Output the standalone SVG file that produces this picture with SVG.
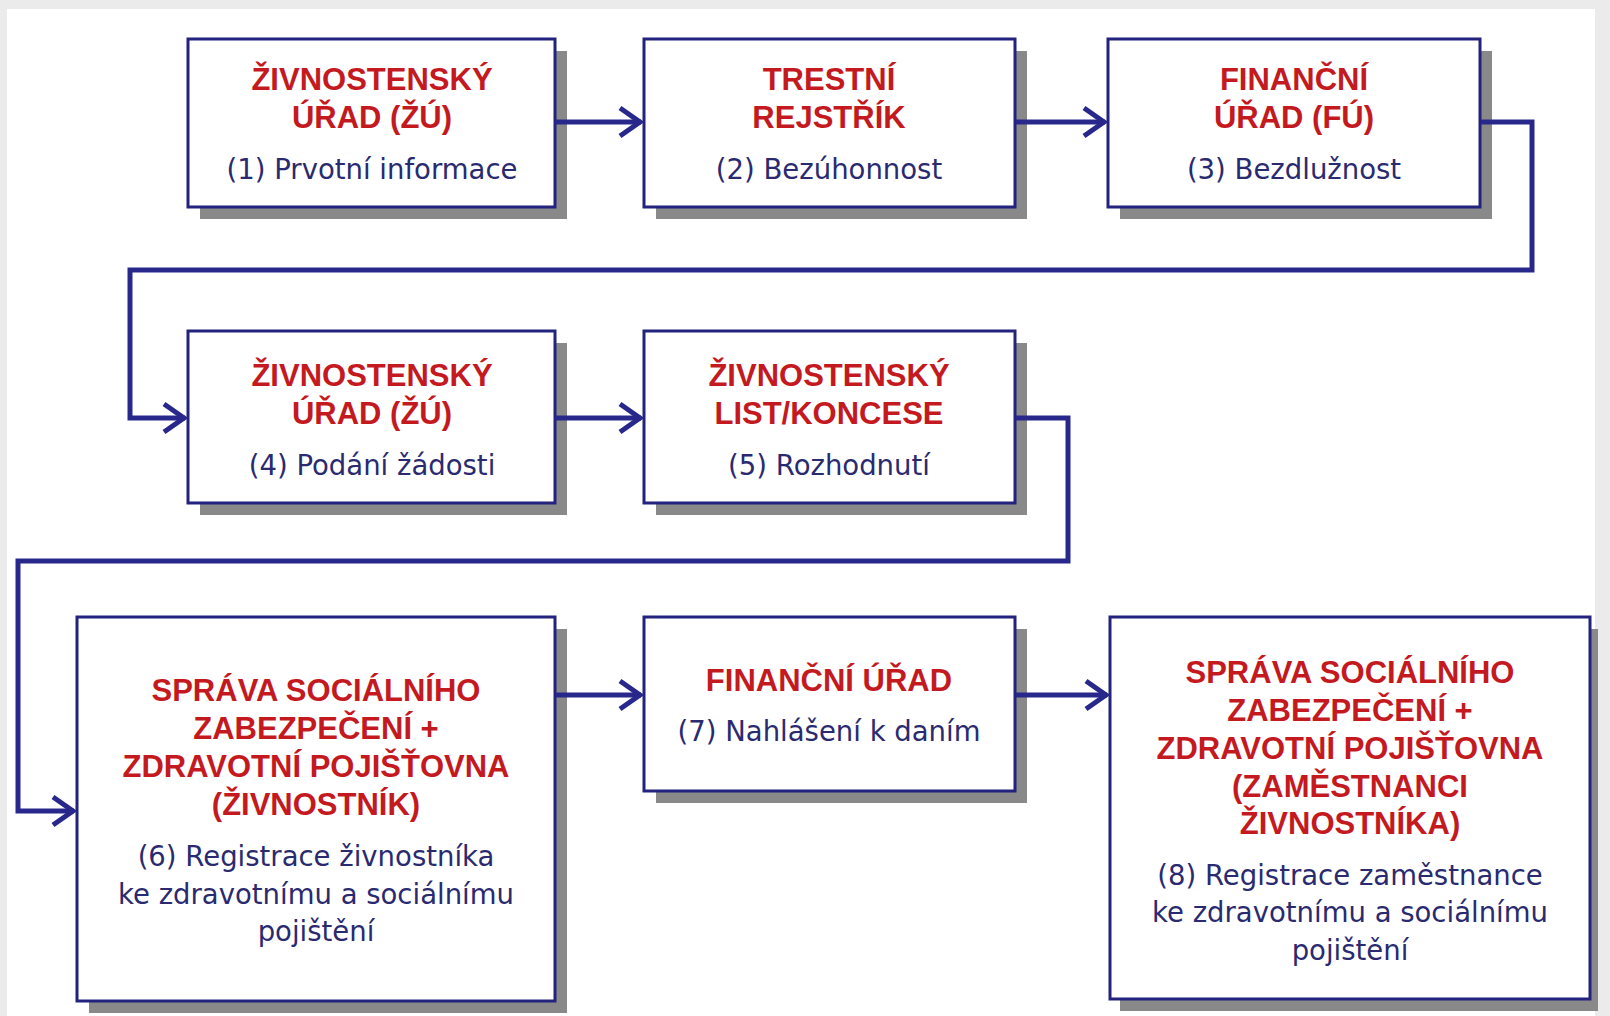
<svg xmlns="http://www.w3.org/2000/svg" width="1610" height="1016" viewBox="0 0 1610 1016">
<style>
.bg{fill:#ebebeb}
.area{fill:#ffffff}
.shadow{fill:#898989}
.box{fill:#ffffff;stroke:#23237e;stroke-width:3}
.t{font-family:"Liberation Sans",Arial,sans-serif;font-weight:bold;font-size:31px;fill:#c41a1f;text-anchor:middle}
.s{font-family:"DejaVu Sans",Verdana,sans-serif;font-size:27.5px;fill:#2a2a70;text-anchor:middle}
.c{fill:none;stroke:#28288c;stroke-width:5;stroke-linejoin:miter}
</style>
<defs>
<marker id="arr" viewBox="-26 -18 30 36" refX="0" refY="0" markerWidth="30" markerHeight="36" orient="auto" markerUnits="userSpaceOnUse">
<path d="M-21,-14 L-1,0 L-21,14" fill="none" stroke="#28288c" stroke-width="5"/>
</marker>
</defs>
<rect class="bg" x="0" y="0" width="1610" height="1016"/>
<rect class="area" x="7" y="9" width="1588" height="1007"/>

<g id="n1">
<rect class="shadow" x="200" y="51" width="367" height="168"/>
<rect class="box" x="188" y="39" width="367" height="168"/>
<text class="t" x="372" y="90">ŽIVNOSTENSKÝ</text>
<text class="t" x="372" y="128">ÚŘAD (ŽÚ)</text>
<text class="s" x="372" y="179">(1) Prvotní informace</text>
</g>

<g id="n2">
<rect class="shadow" x="656" y="51" width="371" height="168"/>
<rect class="box" x="644" y="39" width="371" height="168"/>
<text class="t" x="829" y="90">TRESTNÍ</text>
<text class="t" x="829" y="128">REJSTŘÍK</text>
<text class="s" x="829" y="179">(2) Bezúhonnost</text>
</g>

<g id="n3">
<rect class="shadow" x="1120" y="51" width="372" height="168"/>
<rect class="box" x="1108" y="39" width="372" height="168"/>
<text class="t" x="1294" y="90">FINANČNÍ</text>
<text class="t" x="1294" y="128">ÚŘAD (FÚ)</text>
<text class="s" x="1294" y="179">(3) Bezdlužnost</text>
</g>

<g id="n4">
<rect class="shadow" x="200" y="343" width="367" height="172"/>
<rect class="box" x="188" y="331" width="367" height="172"/>
<text class="t" x="372" y="386">ŽIVNOSTENSKÝ</text>
<text class="t" x="372" y="424">ÚŘAD (ŽÚ)</text>
<text class="s" x="372" y="475">(4) Podání žádosti</text>
</g>

<g id="n5">
<rect class="shadow" x="656" y="343" width="371" height="172"/>
<rect class="box" x="644" y="331" width="371" height="172"/>
<text class="t" x="829" y="386">ŽIVNOSTENSKÝ</text>
<text class="t" x="829" y="424">LIST/KONCESE</text>
<text class="s" x="829" y="475">(5) Rozhodnutí</text>
</g>

<g id="n6">
<rect class="shadow" x="89" y="629" width="478" height="384"/>
<rect class="box" x="77" y="617" width="478" height="384"/>
<text class="t" x="316" y="701">SPRÁVA SOCIÁLNÍHO</text>
<text class="t" x="316" y="739">ZABEZPEČENÍ +</text>
<text class="t" x="316" y="777">ZDRAVOTNÍ POJIŠŤOVNA</text>
<text class="t" x="316" y="815">(ŽIVNOSTNÍK)</text>
<text class="s" x="316" y="866">(6) Registrace živnostníka</text>
<text class="s" x="316" y="904">ke zdravotnímu a sociálnímu</text>
<text class="s" x="316" y="941">pojištění</text>
</g>

<g id="n7">
<rect class="shadow" x="656" y="629" width="371" height="174"/>
<rect class="box" x="644" y="617" width="371" height="174"/>
<text class="t" x="829" y="691">FINANČNÍ ÚŘAD</text>
<text class="s" x="829" y="741">(7) Nahlášení k daním</text>
</g>

<g id="n8">
<rect class="shadow" x="1120" y="629" width="478" height="382"/>
<rect class="box" x="1110" y="617" width="480" height="382"/>
<text class="t" x="1350" y="683">SPRÁVA SOCIÁLNÍHO</text>
<text class="t" x="1350" y="721">ZABEZPEČENÍ +</text>
<text class="t" x="1350" y="759">ZDRAVOTNÍ POJIŠŤOVNA</text>
<text class="t" x="1350" y="797">(ZAMĚSTNANCI</text>
<text class="t" x="1350" y="834">ŽIVNOSTNÍKA)</text>
<text class="s" x="1350" y="885">(8) Registrace zaměstnance</text>
<text class="s" x="1350" y="922">ke zdravotnímu a sociálnímu</text>
<text class="s" x="1350" y="960">pojištění</text>
</g>

<g id="connectors">
<path class="c" d="M556,122 L641,122" marker-end="url(#arr)"/>
<path class="c" d="M1016,122 L1105,122" marker-end="url(#arr)"/>
<path class="c" d="M1481,122 L1532,122 L1532,270 L130,270 L130,418 L185,418" marker-end="url(#arr)"/>
<path class="c" d="M556,418 L641,418" marker-end="url(#arr)"/>
<path class="c" d="M1016,418 L1068,418 L1068,561 L18,561 L18,811 L74,811" marker-end="url(#arr)"/>
<path class="c" d="M556,695 L641,695" marker-end="url(#arr)"/>
<path class="c" d="M1016,695 L1107,695" marker-end="url(#arr)"/>
</g>
</svg>
